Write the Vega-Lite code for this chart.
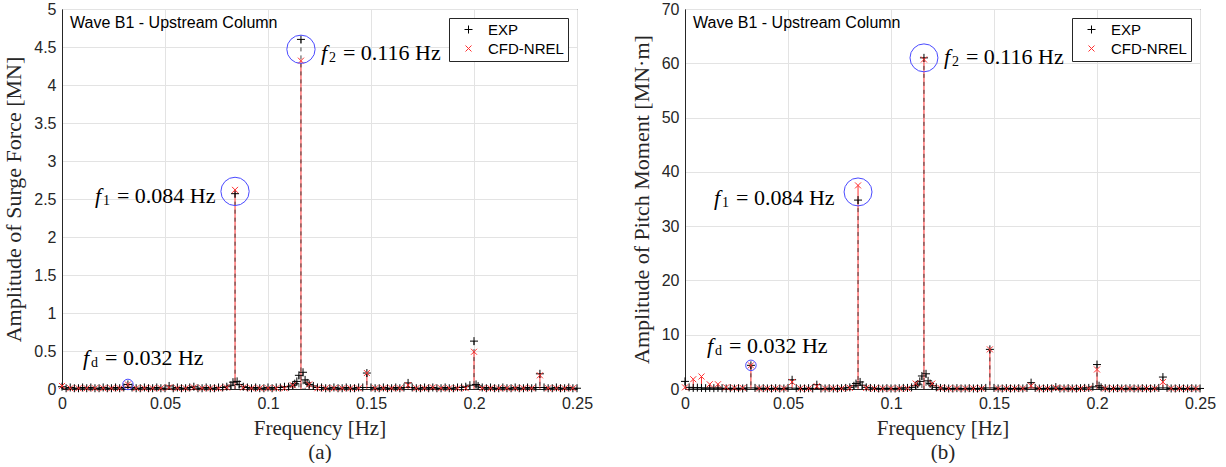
{
  "$schema": "https://vega.github.io/schema/vega-lite/v6.json",
  "padding": {"left": 2, "top": 0, "right": 0, "bottom": 0},
  "spacing": 35,
  "background": "white",
  "config": {
    "view": {"stroke": "#262626", "strokeWidth": 1},
    "axis": {
      "labelFont": "Liberation Sans", "labelFontSize": 16, "labelColor": "#262626", "labelFlush": false,
      "titleFont": "Liberation Serif", "titleFontSize": 21, "titleFontWeight": "normal", "titleColor": "#262626",
      "gridColor": "#e3e3e3", "domainColor": "#262626", "ticks": false, "labelPadding": 6
    },
    "legend": {
      "orient": "top-right", "offset": 9, "fillColor": "white", "strokeColor": "#262626",
      "padding": 4, "labelFont": "Liberation Sans", "labelFontSize": 15, "labelColor": "black",
      "symbolStrokeWidth": 1, "symbolSize": 64, "rowPadding": 3, "labelOffset": 12, "symbolOffset": 8
    }
  },
  "datasets": {
    "a": [
      {"s":"EXP","f":0,"a":0.03},{"s":"EXP","f":0.002,"a":0.01},{"s":"EXP","f":0.004,"a":0.02},{"s":"EXP","f":0.006,"a":0.01},{"s":"EXP","f":0.008,"a":0.01},{"s":"EXP","f":0.01,"a":0.02},{"s":"EXP","f":0.012,"a":0.01},{"s":"EXP","f":0.014,"a":0.02},{"s":"EXP","f":0.016,"a":0.01},{"s":"EXP","f":0.018,"a":0.01},{"s":"EXP","f":0.02,"a":0.02},{"s":"EXP","f":0.022,"a":0.01},{"s":"EXP","f":0.024,"a":0.01},{"s":"EXP","f":0.026,"a":0.02},{"s":"EXP","f":0.028,"a":0.01},{"s":"EXP","f":0.03,"a":0.02},{"s":"EXP","f":0.032,"a":0.06},{"s":"EXP","f":0.034,"a":0.02},{"s":"EXP","f":0.036,"a":0.01},{"s":"EXP","f":0.038,"a":0.01},{"s":"EXP","f":0.04,"a":0.02},{"s":"EXP","f":0.042,"a":0.01},{"s":"EXP","f":0.044,"a":0.01},{"s":"EXP","f":0.046,"a":0.02},{"s":"EXP","f":0.048,"a":0.01},{"s":"EXP","f":0.05,"a":0.01},{"s":"EXP","f":0.052,"a":0.04},{"s":"EXP","f":0.054,"a":0.01},{"s":"EXP","f":0.056,"a":0.02},{"s":"EXP","f":0.058,"a":0.01},{"s":"EXP","f":0.06,"a":0.01},{"s":"EXP","f":0.062,"a":0.02},{"s":"EXP","f":0.064,"a":0.03},{"s":"EXP","f":0.066,"a":0.01},{"s":"EXP","f":0.068,"a":0.01},{"s":"EXP","f":0.07,"a":0.02},{"s":"EXP","f":0.072,"a":0.01},{"s":"EXP","f":0.074,"a":0.01},{"s":"EXP","f":0.076,"a":0.02},{"s":"EXP","f":0.078,"a":0.02},{"s":"EXP","f":0.08,"a":0.03},{"s":"EXP","f":0.082,"a":0.05},{"s":"EXP","f":0.083,"a":0.09},{"s":"EXP","f":0.084,"a":2.57},{"s":"EXP","f":0.085,"a":0.1},{"s":"EXP","f":0.086,"a":0.06},{"s":"EXP","f":0.088,"a":0.03},{"s":"EXP","f":0.09,"a":0.02},{"s":"EXP","f":0.092,"a":0.01},{"s":"EXP","f":0.094,"a":0.02},{"s":"EXP","f":0.096,"a":0.01},{"s":"EXP","f":0.098,"a":0.01},{"s":"EXP","f":0.1,"a":0.02},{"s":"EXP","f":0.102,"a":0.01},{"s":"EXP","f":0.104,"a":0.02},{"s":"EXP","f":0.106,"a":0.02},{"s":"EXP","f":0.108,"a":0.03},{"s":"EXP","f":0.11,"a":0.03},{"s":"EXP","f":0.112,"a":0.05},{"s":"EXP","f":0.113,"a":0.07},{"s":"EXP","f":0.114,"a":0.1},{"s":"EXP","f":0.115,"a":0.18},{"s":"EXP","f":0.116,"a":4.6},{"s":"EXP","f":0.117,"a":0.22},{"s":"EXP","f":0.118,"a":0.12},{"s":"EXP","f":0.119,"a":0.08},{"s":"EXP","f":0.12,"a":0.06},{"s":"EXP","f":0.122,"a":0.04},{"s":"EXP","f":0.124,"a":0.02},{"s":"EXP","f":0.126,"a":0.02},{"s":"EXP","f":0.128,"a":0.01},{"s":"EXP","f":0.13,"a":0.01},{"s":"EXP","f":0.132,"a":0.02},{"s":"EXP","f":0.134,"a":0.01},{"s":"EXP","f":0.136,"a":0.01},{"s":"EXP","f":0.138,"a":0.02},{"s":"EXP","f":0.14,"a":0.01},{"s":"EXP","f":0.142,"a":0.01},{"s":"EXP","f":0.144,"a":0.02},{"s":"EXP","f":0.146,"a":0.02},{"s":"EXP","f":0.148,"a":0.21},{"s":"EXP","f":0.15,"a":0.02},{"s":"EXP","f":0.152,"a":0.01},{"s":"EXP","f":0.154,"a":0.01},{"s":"EXP","f":0.156,"a":0.02},{"s":"EXP","f":0.158,"a":0.01},{"s":"EXP","f":0.16,"a":0.01},{"s":"EXP","f":0.162,"a":0.02},{"s":"EXP","f":0.164,"a":0.01},{"s":"EXP","f":0.166,"a":0.02},{"s":"EXP","f":0.168,"a":0.08},{"s":"EXP","f":0.17,"a":0.02},{"s":"EXP","f":0.172,"a":0.01},{"s":"EXP","f":0.174,"a":0.01},{"s":"EXP","f":0.176,"a":0.02},{"s":"EXP","f":0.178,"a":0.01},{"s":"EXP","f":0.18,"a":0.02},{"s":"EXP","f":0.182,"a":0.01},{"s":"EXP","f":0.184,"a":0.01},{"s":"EXP","f":0.186,"a":0.02},{"s":"EXP","f":0.188,"a":0.01},{"s":"EXP","f":0.19,"a":0.01},{"s":"EXP","f":0.192,"a":0.02},{"s":"EXP","f":0.194,"a":0.02},{"s":"EXP","f":0.196,"a":0.03},{"s":"EXP","f":0.198,"a":0.05},{"s":"EXP","f":0.2,"a":0.63},{"s":"EXP","f":0.201,"a":0.06},{"s":"EXP","f":0.202,"a":0.04},{"s":"EXP","f":0.204,"a":0.02},{"s":"EXP","f":0.206,"a":0.01},{"s":"EXP","f":0.208,"a":0.02},{"s":"EXP","f":0.21,"a":0.01},{"s":"EXP","f":0.212,"a":0.01},{"s":"EXP","f":0.214,"a":0.02},{"s":"EXP","f":0.216,"a":0.01},{"s":"EXP","f":0.218,"a":0.01},{"s":"EXP","f":0.22,"a":0.02},{"s":"EXP","f":0.222,"a":0.01},{"s":"EXP","f":0.224,"a":0.01},{"s":"EXP","f":0.226,"a":0.02},{"s":"EXP","f":0.228,"a":0.01},{"s":"EXP","f":0.23,"a":0.02},{"s":"EXP","f":0.232,"a":0.2},{"s":"EXP","f":0.234,"a":0.02},{"s":"EXP","f":0.236,"a":0.01},{"s":"EXP","f":0.238,"a":0.01},{"s":"EXP","f":0.24,"a":0.02},{"s":"EXP","f":0.242,"a":0.01},{"s":"EXP","f":0.244,"a":0.01},{"s":"EXP","f":0.246,"a":0.02},{"s":"EXP","f":0.248,"a":0.01},{"s":"EXP","f":0.25,"a":0.01},
      {"s":"CFD-NREL","f":0,"a":0.04},{"s":"CFD-NREL","f":0.004,"a":0.01},{"s":"CFD-NREL","f":0.008,"a":0.01},{"s":"CFD-NREL","f":0.012,"a":0.01},{"s":"CFD-NREL","f":0.016,"a":0.01},{"s":"CFD-NREL","f":0.02,"a":0.01},{"s":"CFD-NREL","f":0.024,"a":0.01},{"s":"CFD-NREL","f":0.028,"a":0.01},{"s":"CFD-NREL","f":0.032,"a":0.06},{"s":"CFD-NREL","f":0.036,"a":0.01},{"s":"CFD-NREL","f":0.04,"a":0.01},{"s":"CFD-NREL","f":0.044,"a":0.01},{"s":"CFD-NREL","f":0.048,"a":0.01},{"s":"CFD-NREL","f":0.052,"a":0.02},{"s":"CFD-NREL","f":0.056,"a":0.01},{"s":"CFD-NREL","f":0.06,"a":0.01},{"s":"CFD-NREL","f":0.064,"a":0.02},{"s":"CFD-NREL","f":0.068,"a":0.01},{"s":"CFD-NREL","f":0.072,"a":0.01},{"s":"CFD-NREL","f":0.076,"a":0.01},{"s":"CFD-NREL","f":0.08,"a":0.02},{"s":"CFD-NREL","f":0.084,"a":2.62},{"s":"CFD-NREL","f":0.088,"a":0.02},{"s":"CFD-NREL","f":0.092,"a":0.01},{"s":"CFD-NREL","f":0.096,"a":0.01},{"s":"CFD-NREL","f":0.1,"a":0.01},{"s":"CFD-NREL","f":0.104,"a":0.01},{"s":"CFD-NREL","f":0.108,"a":0.01},{"s":"CFD-NREL","f":0.112,"a":0.05},{"s":"CFD-NREL","f":0.116,"a":4.32},{"s":"CFD-NREL","f":0.12,"a":0.06},{"s":"CFD-NREL","f":0.124,"a":0.01},{"s":"CFD-NREL","f":0.128,"a":0.01},{"s":"CFD-NREL","f":0.132,"a":0.01},{"s":"CFD-NREL","f":0.136,"a":0.01},{"s":"CFD-NREL","f":0.14,"a":0.01},{"s":"CFD-NREL","f":0.144,"a":0.01},{"s":"CFD-NREL","f":0.148,"a":0.21},{"s":"CFD-NREL","f":0.152,"a":0.01},{"s":"CFD-NREL","f":0.156,"a":0.01},{"s":"CFD-NREL","f":0.16,"a":0.01},{"s":"CFD-NREL","f":0.164,"a":0.01},{"s":"CFD-NREL","f":0.168,"a":0.05},{"s":"CFD-NREL","f":0.172,"a":0.01},{"s":"CFD-NREL","f":0.176,"a":0.01},{"s":"CFD-NREL","f":0.18,"a":0.02},{"s":"CFD-NREL","f":0.184,"a":0.01},{"s":"CFD-NREL","f":0.188,"a":0.01},{"s":"CFD-NREL","f":0.192,"a":0.01},{"s":"CFD-NREL","f":0.196,"a":0.01},{"s":"CFD-NREL","f":0.2,"a":0.49},{"s":"CFD-NREL","f":0.204,"a":0.01},{"s":"CFD-NREL","f":0.208,"a":0.01},{"s":"CFD-NREL","f":0.212,"a":0.01},{"s":"CFD-NREL","f":0.216,"a":0.01},{"s":"CFD-NREL","f":0.22,"a":0.01},{"s":"CFD-NREL","f":0.224,"a":0.01},{"s":"CFD-NREL","f":0.228,"a":0.01},{"s":"CFD-NREL","f":0.232,"a":0.18},{"s":"CFD-NREL","f":0.236,"a":0.01},{"s":"CFD-NREL","f":0.24,"a":0.01},{"s":"CFD-NREL","f":0.244,"a":0.01},{"s":"CFD-NREL","f":0.248,"a":0.01}
    ],
    "b": [
      {"s":"EXP","f":0,"a":1.4},{"s":"EXP","f":0.002,"a":0.3},{"s":"EXP","f":0.004,"a":0.2},{"s":"EXP","f":0.006,"a":0.25},{"s":"EXP","f":0.008,"a":0.2},{"s":"EXP","f":0.01,"a":0.15},{"s":"EXP","f":0.012,"a":0.2},{"s":"EXP","f":0.014,"a":0.15},{"s":"EXP","f":0.016,"a":0.2},{"s":"EXP","f":0.018,"a":0.15},{"s":"EXP","f":0.02,"a":0.1},{"s":"EXP","f":0.022,"a":0.15},{"s":"EXP","f":0.024,"a":0.1},{"s":"EXP","f":0.026,"a":0.15},{"s":"EXP","f":0.028,"a":0.1},{"s":"EXP","f":0.03,"a":0.2},{"s":"EXP","f":0.032,"a":4.36},{"s":"EXP","f":0.034,"a":0.2},{"s":"EXP","f":0.036,"a":0.1},{"s":"EXP","f":0.038,"a":0.15},{"s":"EXP","f":0.04,"a":0.1},{"s":"EXP","f":0.042,"a":0.1},{"s":"EXP","f":0.044,"a":0.15},{"s":"EXP","f":0.046,"a":0.1},{"s":"EXP","f":0.048,"a":0.1},{"s":"EXP","f":0.05,"a":0.2},{"s":"EXP","f":0.052,"a":1.7},{"s":"EXP","f":0.054,"a":0.15},{"s":"EXP","f":0.056,"a":0.1},{"s":"EXP","f":0.058,"a":0.1},{"s":"EXP","f":0.06,"a":0.15},{"s":"EXP","f":0.062,"a":0.1},{"s":"EXP","f":0.064,"a":0.8},{"s":"EXP","f":0.066,"a":0.1},{"s":"EXP","f":0.068,"a":0.1},{"s":"EXP","f":0.07,"a":0.15},{"s":"EXP","f":0.072,"a":0.1},{"s":"EXP","f":0.074,"a":0.1},{"s":"EXP","f":0.076,"a":0.15},{"s":"EXP","f":0.078,"a":0.2},{"s":"EXP","f":0.08,"a":0.3},{"s":"EXP","f":0.082,"a":0.6},{"s":"EXP","f":0.083,"a":1.0},{"s":"EXP","f":0.084,"a":34.8},{"s":"EXP","f":0.085,"a":1.3},{"s":"EXP","f":0.086,"a":0.7},{"s":"EXP","f":0.088,"a":0.3},{"s":"EXP","f":0.09,"a":0.2},{"s":"EXP","f":0.092,"a":0.15},{"s":"EXP","f":0.094,"a":0.1},{"s":"EXP","f":0.096,"a":0.1},{"s":"EXP","f":0.098,"a":0.15},{"s":"EXP","f":0.1,"a":0.1},{"s":"EXP","f":0.102,"a":0.1},{"s":"EXP","f":0.104,"a":0.15},{"s":"EXP","f":0.106,"a":0.2},{"s":"EXP","f":0.108,"a":0.2},{"s":"EXP","f":0.11,"a":0.3},{"s":"EXP","f":0.112,"a":0.6},{"s":"EXP","f":0.113,"a":0.9},{"s":"EXP","f":0.114,"a":1.4},{"s":"EXP","f":0.115,"a":2.4},{"s":"EXP","f":0.116,"a":61.0},{"s":"EXP","f":0.117,"a":2.8},{"s":"EXP","f":0.118,"a":1.5},{"s":"EXP","f":0.119,"a":1.0},{"s":"EXP","f":0.12,"a":0.6},{"s":"EXP","f":0.122,"a":0.3},{"s":"EXP","f":0.124,"a":0.2},{"s":"EXP","f":0.126,"a":0.15},{"s":"EXP","f":0.128,"a":0.1},{"s":"EXP","f":0.13,"a":0.1},{"s":"EXP","f":0.132,"a":0.15},{"s":"EXP","f":0.134,"a":0.1},{"s":"EXP","f":0.136,"a":0.1},{"s":"EXP","f":0.138,"a":0.15},{"s":"EXP","f":0.14,"a":0.1},{"s":"EXP","f":0.142,"a":0.1},{"s":"EXP","f":0.144,"a":0.15},{"s":"EXP","f":0.146,"a":0.2},{"s":"EXP","f":0.148,"a":7.3},{"s":"EXP","f":0.15,"a":0.2},{"s":"EXP","f":0.152,"a":0.1},{"s":"EXP","f":0.154,"a":0.1},{"s":"EXP","f":0.156,"a":0.15},{"s":"EXP","f":0.158,"a":0.1},{"s":"EXP","f":0.16,"a":0.1},{"s":"EXP","f":0.162,"a":0.15},{"s":"EXP","f":0.164,"a":0.1},{"s":"EXP","f":0.166,"a":0.2},{"s":"EXP","f":0.168,"a":1.17},{"s":"EXP","f":0.17,"a":0.2},{"s":"EXP","f":0.172,"a":0.1},{"s":"EXP","f":0.174,"a":0.1},{"s":"EXP","f":0.176,"a":0.15},{"s":"EXP","f":0.178,"a":0.1},{"s":"EXP","f":0.18,"a":0.35},{"s":"EXP","f":0.182,"a":0.1},{"s":"EXP","f":0.184,"a":0.1},{"s":"EXP","f":0.186,"a":0.15},{"s":"EXP","f":0.188,"a":0.1},{"s":"EXP","f":0.19,"a":0.1},{"s":"EXP","f":0.192,"a":0.15},{"s":"EXP","f":0.194,"a":0.2},{"s":"EXP","f":0.196,"a":0.2},{"s":"EXP","f":0.198,"a":0.4},{"s":"EXP","f":0.2,"a":4.5},{"s":"EXP","f":0.201,"a":0.6},{"s":"EXP","f":0.202,"a":0.3},{"s":"EXP","f":0.204,"a":0.15},{"s":"EXP","f":0.206,"a":0.1},{"s":"EXP","f":0.208,"a":0.1},{"s":"EXP","f":0.21,"a":0.15},{"s":"EXP","f":0.212,"a":0.1},{"s":"EXP","f":0.214,"a":0.1},{"s":"EXP","f":0.216,"a":0.15},{"s":"EXP","f":0.218,"a":0.1},{"s":"EXP","f":0.22,"a":0.1},{"s":"EXP","f":0.222,"a":0.15},{"s":"EXP","f":0.224,"a":0.1},{"s":"EXP","f":0.226,"a":0.1},{"s":"EXP","f":0.228,"a":0.15},{"s":"EXP","f":0.23,"a":0.2},{"s":"EXP","f":0.232,"a":2.2},{"s":"EXP","f":0.234,"a":0.2},{"s":"EXP","f":0.236,"a":0.1},{"s":"EXP","f":0.238,"a":0.1},{"s":"EXP","f":0.24,"a":0.15},{"s":"EXP","f":0.242,"a":0.1},{"s":"EXP","f":0.244,"a":0.1},{"s":"EXP","f":0.246,"a":0.15},{"s":"EXP","f":0.248,"a":0.1},{"s":"EXP","f":0.25,"a":0.1},
      {"s":"CFD-NREL","f":0,"a":0.3},{"s":"CFD-NREL","f":0.004,"a":1.8},{"s":"CFD-NREL","f":0.008,"a":2.3},{"s":"CFD-NREL","f":0.012,"a":0.87},{"s":"CFD-NREL","f":0.016,"a":0.87},{"s":"CFD-NREL","f":0.02,"a":0.3},{"s":"CFD-NREL","f":0.024,"a":0.2},{"s":"CFD-NREL","f":0.028,"a":0.2},{"s":"CFD-NREL","f":0.032,"a":4.36},{"s":"CFD-NREL","f":0.036,"a":0.1},{"s":"CFD-NREL","f":0.04,"a":0.1},{"s":"CFD-NREL","f":0.044,"a":0.1},{"s":"CFD-NREL","f":0.048,"a":0.1},{"s":"CFD-NREL","f":0.052,"a":1.3},{"s":"CFD-NREL","f":0.056,"a":0.1},{"s":"CFD-NREL","f":0.06,"a":0.1},{"s":"CFD-NREL","f":0.064,"a":0.5},{"s":"CFD-NREL","f":0.068,"a":0.1},{"s":"CFD-NREL","f":0.072,"a":0.1},{"s":"CFD-NREL","f":0.076,"a":0.1},{"s":"CFD-NREL","f":0.08,"a":0.2},{"s":"CFD-NREL","f":0.084,"a":37.5},{"s":"CFD-NREL","f":0.088,"a":0.2},{"s":"CFD-NREL","f":0.092,"a":0.1},{"s":"CFD-NREL","f":0.096,"a":0.1},{"s":"CFD-NREL","f":0.1,"a":0.1},{"s":"CFD-NREL","f":0.104,"a":0.1},{"s":"CFD-NREL","f":0.108,"a":0.1},{"s":"CFD-NREL","f":0.112,"a":1.0},{"s":"CFD-NREL","f":0.116,"a":60.7},{"s":"CFD-NREL","f":0.12,"a":1.0},{"s":"CFD-NREL","f":0.124,"a":0.2},{"s":"CFD-NREL","f":0.128,"a":0.1},{"s":"CFD-NREL","f":0.132,"a":0.1},{"s":"CFD-NREL","f":0.136,"a":0.1},{"s":"CFD-NREL","f":0.14,"a":0.1},{"s":"CFD-NREL","f":0.144,"a":0.1},{"s":"CFD-NREL","f":0.148,"a":7.3},{"s":"CFD-NREL","f":0.152,"a":0.1},{"s":"CFD-NREL","f":0.156,"a":0.1},{"s":"CFD-NREL","f":0.16,"a":0.1},{"s":"CFD-NREL","f":0.164,"a":0.1},{"s":"CFD-NREL","f":0.168,"a":0.6},{"s":"CFD-NREL","f":0.172,"a":0.1},{"s":"CFD-NREL","f":0.176,"a":0.1},{"s":"CFD-NREL","f":0.18,"a":0.2},{"s":"CFD-NREL","f":0.184,"a":0.1},{"s":"CFD-NREL","f":0.188,"a":0.1},{"s":"CFD-NREL","f":0.192,"a":0.1},{"s":"CFD-NREL","f":0.196,"a":0.1},{"s":"CFD-NREL","f":0.2,"a":3.6},{"s":"CFD-NREL","f":0.204,"a":0.1},{"s":"CFD-NREL","f":0.208,"a":0.1},{"s":"CFD-NREL","f":0.212,"a":0.1},{"s":"CFD-NREL","f":0.216,"a":0.1},{"s":"CFD-NREL","f":0.22,"a":0.1},{"s":"CFD-NREL","f":0.224,"a":0.1},{"s":"CFD-NREL","f":0.228,"a":0.1},{"s":"CFD-NREL","f":0.232,"a":1.3},{"s":"CFD-NREL","f":0.236,"a":0.1},{"s":"CFD-NREL","f":0.24,"a":0.1},{"s":"CFD-NREL","f":0.244,"a":0.1},{"s":"CFD-NREL","f":0.248,"a":0.1}
    ],
    "na": [
      {"f":0.016,"a":2.54,"sub":"1","rest":"= 0.084 Hz"},
      {"f":0.1257,"a":4.42,"sub":"2","rest":"= 0.116 Hz"},
      {"f":0.0102,"a":0.41,"sub":"d","rest":"= 0.032 Hz"}
    ],
    "nb": [
      {"f":0.0141,"a":35.2,"sub":"1","rest":"= 0.084 Hz"},
      {"f":0.1257,"a":61.1,"sub":"2","rest":"= 0.116 Hz"},
      {"f":0.0107,"a":7.9,"sub":"d","rest":"= 0.032 Hz"}
    ]
  },
  "resolve": {
    "scale": {"x": "independent", "y": "independent", "color": "independent", "shape": "independent"},
    "legend": {"color": "independent", "shape": "independent"}
  },
  "hconcat": [
    {
      "width": 515, "height": 380,
      "encoding": {
        "x": {"field": "f", "type": "quantitative", "scale": {"domain": [0, 0.25], "nice": false, "zero": false, "padding": 0},
              "axis": {"values": [0, 0.05, 0.1, 0.15, 0.2, 0.25], "format": ".2~f", "title": ["Frequency [Hz]", "(a)"], "titleLineHeight": 24, "titlePadding": 6}},
        "y": {"field": "a", "type": "quantitative", "scale": {"domain": [0, 5], "nice": false, "padding": 0},
              "axis": {"values": [0, 0.5, 1, 1.5, 2, 2.5, 3, 3.5, 4, 4.5, 5], "format": ".1~f", "title": "Amplitude of Surge Force [MN]", "titlePadding": 8, "titleFontSize": 22}}
      },
      "layer": [
        {
          "data": {"name": "a"},
          "transform": [{"filter": "datum.s === 'CFD-NREL'"}],
          "mark": {"type": "rule", "strokeWidth": 1, "color": "#ff3030"},
          "encoding": {"y2": {"datum": 0}}
        },
        {
          "data": {"name": "a"},
          "transform": [{"filter": "datum.s === 'EXP'"}],
          "mark": {"type": "rule", "strokeWidth": 0.9, "color": "#333333", "strokeDash": [4, 4]},
          "encoding": {"y2": {"datum": 0}}
        },
        {
          "data": {"name": "a"},
          "mark": {"type": "point", "filled": false, "strokeWidth": 1, "opacity": 1},
          "encoding": {
            "color": {"field": "s", "type": "nominal", "scale": {"domain": ["EXP", "CFD-NREL"], "range": ["#000000", "#ff3030"]}, "legend": {"title": null}},
            "shape": {"field": "s", "type": "nominal", "scale": {"domain": ["EXP", "CFD-NREL"], "range": ["M-1,0L1,0M0,-1L0,1", "M-0.75,-0.75L0.75,0.75M-0.75,0.75L0.75,-0.75"]}, "legend": {"title": null}},
            "size": {"value": 64}
          }
        },
        {
          "data": {"values": [{"f": 0.084, "a": 2.6}, {"f": 0.116, "a": 4.47}]},
          "mark": {"type": "point", "shape": "circle", "filled": false, "stroke": "#4a4aff", "strokeWidth": 1, "size": 800, "opacity": 1},
          "encoding": {}
        },
        {
          "data": {"values": [{"f": 0.032, "a": 0.06}]},
          "mark": {"type": "point", "shape": "circle", "filled": false, "stroke": "#4a4aff", "strokeWidth": 1, "size": 110, "opacity": 1},
          "encoding": {}
        },
        {
          "data": {"values": [{"f": 0.0039, "a": 4.82, "t": "Wave B1 - Upstream Column"}]},
          "mark": {"type": "text", "align": "left", "baseline": "middle", "font": "Liberation Sans", "fontSize": 16, "color": "#000000"},
          "encoding": {"text": {"field": "t"}}
        },
        {
          "data": {"name": "na"},
          "mark": {"type": "text", "align": "left", "baseline": "middle", "font": "Liberation Serif", "fontStyle": "italic", "fontSize": 22, "color": "#000000"},
          "encoding": {"text": {"value": "f"}}
        },
        {
          "data": {"name": "na"},
          "mark": {"type": "text", "align": "left", "baseline": "middle", "font": "Liberation Serif", "fontSize": 14, "dx": 8, "dy": 5, "color": "#000000"},
          "encoding": {"text": {"field": "sub"}}
        },
        {
          "data": {"name": "na"},
          "mark": {"type": "text", "align": "left", "baseline": "middle", "font": "Liberation Serif", "fontSize": 22, "dx": 22, "color": "#000000"},
          "encoding": {"text": {"field": "rest"}}
        }
      ]
    },
    {
      "width": 515, "height": 380,
      "encoding": {
        "x": {"field": "f", "type": "quantitative", "scale": {"domain": [0, 0.25], "nice": false, "zero": false, "padding": 0},
              "axis": {"values": [0, 0.05, 0.1, 0.15, 0.2, 0.25], "format": ".2~f", "title": ["Frequency [Hz]", "(b)"], "titleLineHeight": 24, "titlePadding": 6}},
        "y": {"field": "a", "type": "quantitative", "scale": {"domain": [0, 70], "nice": false, "padding": 0},
              "axis": {"values": [0, 10, 20, 30, 40, 50, 60, 70], "format": "d", "title": "Amplitude of Pitch Moment [MN·m]", "titlePadding": 8, "titleFontSize": 22}}
      },
      "layer": [
        {
          "data": {"name": "b"},
          "transform": [{"filter": "datum.s === 'CFD-NREL'"}],
          "mark": {"type": "rule", "strokeWidth": 1, "color": "#ff3030"},
          "encoding": {"y2": {"datum": 0}}
        },
        {
          "data": {"name": "b"},
          "transform": [{"filter": "datum.s === 'EXP'"}],
          "mark": {"type": "rule", "strokeWidth": 0.9, "color": "#333333", "strokeDash": [4, 4]},
          "encoding": {"y2": {"datum": 0}}
        },
        {
          "data": {"name": "b"},
          "mark": {"type": "point", "filled": false, "strokeWidth": 1, "opacity": 1},
          "encoding": {
            "color": {"field": "s", "type": "nominal", "scale": {"domain": ["EXP", "CFD-NREL"], "range": ["#000000", "#ff3030"]}, "legend": {"title": null}},
            "shape": {"field": "s", "type": "nominal", "scale": {"domain": ["EXP", "CFD-NREL"], "range": ["M-1,0L1,0M0,-1L0,1", "M-0.75,-0.75L0.75,0.75M-0.75,0.75L0.75,-0.75"]}, "legend": {"title": null}},
            "size": {"value": 64}
          }
        },
        {
          "data": {"values": [{"f": 0.084, "a": 36.3}, {"f": 0.116, "a": 61.0}]},
          "mark": {"type": "point", "shape": "circle", "filled": false, "stroke": "#4a4aff", "strokeWidth": 1, "size": 780, "opacity": 1},
          "encoding": {}
        },
        {
          "data": {"values": [{"f": 0.032, "a": 4.36}]},
          "mark": {"type": "point", "shape": "circle", "filled": false, "stroke": "#4a4aff", "strokeWidth": 1, "size": 110, "opacity": 1},
          "encoding": {}
        },
        {
          "data": {"values": [{"f": 0.0039, "a": 67.4, "t": "Wave B1 - Upstream Column"}]},
          "mark": {"type": "text", "align": "left", "baseline": "middle", "font": "Liberation Sans", "fontSize": 16, "color": "#000000"},
          "encoding": {"text": {"field": "t"}}
        },
        {
          "data": {"name": "nb"},
          "mark": {"type": "text", "align": "left", "baseline": "middle", "font": "Liberation Serif", "fontStyle": "italic", "fontSize": 22, "color": "#000000"},
          "encoding": {"text": {"value": "f"}}
        },
        {
          "data": {"name": "nb"},
          "mark": {"type": "text", "align": "left", "baseline": "middle", "font": "Liberation Serif", "fontSize": 14, "dx": 8, "dy": 5, "color": "#000000"},
          "encoding": {"text": {"field": "sub"}}
        },
        {
          "data": {"name": "nb"},
          "mark": {"type": "text", "align": "left", "baseline": "middle", "font": "Liberation Serif", "fontSize": 22, "dx": 22, "color": "#000000"},
          "encoding": {"text": {"field": "rest"}}
        }
      ]
    }
  ]
}
